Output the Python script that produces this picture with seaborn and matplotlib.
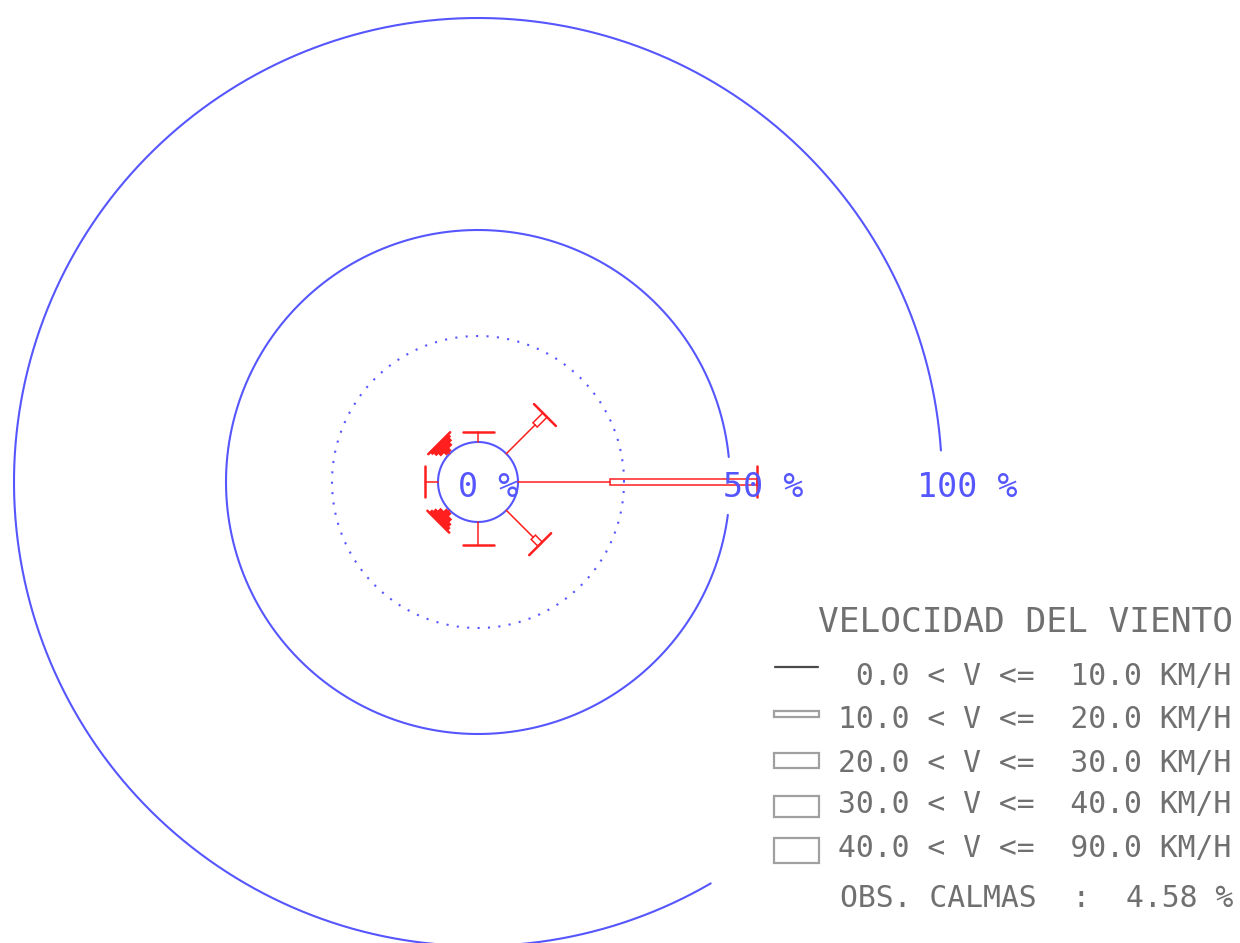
from __future__ import annotations

import matplotlib

matplotlib.use("Agg")

import matplotlib.pyplot as plt
import numpy as np
import pandas as pd
import seaborn as sns
from matplotlib.patches import Polygon, Rectangle


DIRECTIONS = ["N", "NE", "E", "SE", "S", "SW", "W", "NW"]
BEARINGS = [0, 45, 90, 135, 180, 225, 270, 315]  # degrees clockwise from north

SPEED_LOW = [0.0, 10.0, 20.0, 30.0, 40.0]
SPEED_HIGH = [10.0, 20.0, 30.0, 40.0, 90.0]

FREQ_0_10 = [2.4, 9.6, 21.7, 9.0, 5.4, 0.4, 3.1, 0.4]
FREQ_10_20 = [0.0, 3.3, 34.7, 2.3, 0.0, 0.9, 0.0, 0.8]
FREQ_20_30 = [0.0, 0.0, 0.0, 0.0, 0.0, 0.9, 0.0, 0.8]
FREQ_30_40 = [0.0, 0.0, 0.0, 0.0, 0.0, 0.8, 0.0, 0.8]
FREQ_40_90 = [0.0, 0.0, 0.0, 0.0, 0.0, 0.8, 0.0, 0.7]

CALMS = 4.58
RING_PCTS = [0, 25, 50, 100]
RING_LABELS = {0: "0 %", 50: "50 %", 100: "100 %"}
TITLE = "VELOCIDAD DEL VIENTO"

# drawing setup (pixel based, like the CAD original)
K = 4.24                 # pixels per percent
CX, CY = 478, 482        # centre of the rose in pixels
R0 = 40 / K              # radius of the 0 % ring
CLASS_WIDTH_PX = [0, 6, 15, 21, 25]
CAP_HALF = 15.5 / K

BLUE = "#5656ff"
RED = "#ff1f1f"
GREY_TEXT = "#707070"
GREY_BOX = "#a0a0a0"
MONO = "DejaVu Sans Mono"


def px(x, y):
    return (x - CX) / K, (CY - y) / K


def ring_frame(pct, start=0.0, stop=360.0):
    t = np.radians(np.linspace(start, stop, 900))
    r = R0 + pct
    return pd.DataFrame({"x": r * np.cos(t), "y": r * np.sin(t)})


def main() -> None:
    sns.set_theme(style="white")
    plt.rcParams["font.family"] = [MONO, "DejaVu Sans"]

    fig = plt.figure(figsize=(12.4, 9.43), dpi=100)
    ax = fig.add_axes([0, 0, 1, 1])
    ax.set_xlim(-CX / K, (1240 - CX) / K)
    ax.set_ylim(-(943 - CY) / K, CY / K)
    ax.axis("off")

    # rings
    arcs = {0: (0, 360), 25: (0, 360), 50: (5.7, 352.5), 100: (3.9, 300.1)}
    for pct in RING_PCTS:
        style = (0, (1, 4)) if pct == 25 else "-"
        sns.lineplot(data=ring_frame(pct, *arcs[pct]), x="x", y="y", sort=False,
                     estimator=None, color=BLUE, lw=1.5, linestyle=style, ax=ax)

    # ring labels
    label_pos = {0: (458, 497), 50: (723, 497), 100: (917, 497)}
    for pct, text in RING_LABELS.items():
        ax.text(*px(*label_pos[pct]), text, color=BLUE, fontsize=24,
                family=MONO, ha="left", va="baseline")

    # wind arms
    classes = [FREQ_0_10, FREQ_10_20, FREQ_20_30, FREQ_30_40, FREQ_40_90]
    stems, caps = [], []
    for i, (name, brg) in enumerate(zip(DIRECTIONS, BEARINGS)):
        b = np.radians(brg)
        u = np.array([np.sin(b), np.cos(b)])
        n = np.array([np.cos(b), -np.sin(b)])
        r = R0
        for k, freq in enumerate(classes):
            f = freq[i]
            if f <= 0:
                continue
            a, e = r * u, (r + f) * u
            if k == 0:
                stems += [(name, *a), (name, *e)]
            else:
                w = CLASS_WIDTH_PX[k] / 2 / K
                short = f < 1.5
                ax.add_patch(Polygon([a + w * n, e + w * n, e - w * n, a - w * n],
                                     closed=True, fill=short, facecolor=RED,
                                     edgecolor=RED, lw=1.1))
            r += f
        end = r * u
        caps += [(name, *(end + CAP_HALF * n)), (name, *(end - CAP_HALF * n))]

    stem_df = pd.DataFrame(stems, columns=["direction", "x", "y"])
    cap_df = pd.DataFrame(caps, columns=["direction", "x", "y"])
    sns.lineplot(data=stem_df, x="x", y="y", units="direction", estimator=None,
                 sort=False, color=RED, lw=1.1, ax=ax)
    sns.lineplot(data=cap_df, x="x", y="y", units="direction", estimator=None,
                 sort=False, color=RED, lw=1.8, ax=ax)

    # legend block
    ax.text(*px(818, 632), TITLE, color=GREY_TEXT, fontsize=24.8, family=MONO,
            ha="left", va="baseline")
    baselines = [685, 728, 772, 813, 857]
    sym_centres = [667, 713.5, 760.5, 806, 850.5]
    for k, (lo, hi) in enumerate(zip(SPEED_LOW, SPEED_HIGH)):
        label = f"{lo:4.1f} < V <= {hi:5.1f} KM/H"
        ax.text(*px(838, baselines[k]), label, color=GREY_TEXT, fontsize=21.4,
                family=MONO, ha="left", va="baseline")
        if k == 0:
            x0, y0 = px(775, sym_centres[k])
            x1, _ = px(818, sym_centres[k])
            ax.plot([x0, x1], [y0, y0], color="#4a4a4a", lw=1.6)
        else:
            h = CLASS_WIDTH_PX[k]
            x0, y0 = px(774, sym_centres[k] + h / 2)
            ax.add_patch(Rectangle((x0, y0), 45 / K, h / K, fill=False,
                                   edgecolor=GREY_BOX, lw=1.6))
    ax.text(*px(840, 907), f"OBS. CALMAS  :  {CALMS:.2f} %", color=GREY_TEXT,
            fontsize=21.4, family=MONO, ha="left", va="baseline")

    fig.savefig("out.png", dpi=100)
    plt.close(fig)


if __name__ == "__main__":
    main()
